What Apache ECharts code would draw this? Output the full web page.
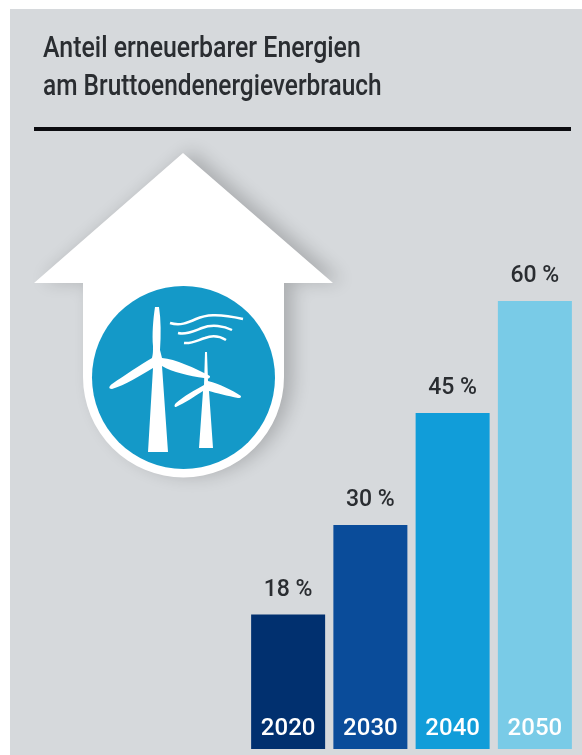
<!DOCTYPE html>
<html>
<head>
<meta charset="utf-8">
<title>Anteil erneuerbarer Energien</title>
<script src="https://cdn.jsdelivr.net/npm/echarts@6/dist/echarts.min.js"></script>
<style>
  html, body { margin: 0; padding: 0; background: #fff; }
  #chart { width: 582px; height: 755px; }
</style>
</head>
<body>
<div id="chart"></div>
<script>
var years = ['2020', '2030', '2040', '2050'];
var shares = [18, 30, 45, 60];
var barColors = ['#01306f', '#0a4c9a', '#119dd9', '#79cbe7'];
var titleLines = ['Anteil erneuerbarer Energien', 'am Bruttoendenergieverbrauch'];

var fontName = 'Roboto, sans-serif';
var panel = '#d6d9dc';
var iconBlue = '#1499c8';
var textColor = '#2a2d31';

// Pfeil mit rundem Ende
var arrowPath = 'M183 153 L333 283 L284 283 L284 377 A100.5 100.5 0 0 1 83 377 L83 283 L34 283 Z';

// Windraeder im Kreis
var bigTurbine = 'M155 307 L159 307 C161 320 161 335 160 350 L162 358 C175 359 195 368 210 376 C210 379 208 379 204 378 '
  + 'C190 376 172 372 162 366 L168 452 L148 452 L153 368 C140 376 125 385 112 389 C108 389 109 386 112 384 '
  + 'C125 375 140 365 152 358 C153 354 153 352 153 346 C152 335 153 320 155 307 Z';
var smallTurbine = 'M205 352 L207 352 L208 381 C220 384 232 390 241 396 C241 398 240 398 238 398 C228 396 216 393 209 391 '
  + 'L213 448 L199 448 L203 391 C195 396 185 403 176 407 C174 407 174 405 176 403 C184 396 195 390 204 385 Z';
var winds = 'M170 323 C180 326 187 323 196 319 C205 315 217 313 243 319 '
  + 'M178 333 C186 335 194 331 202 328 C212 324 224 326 232 330 '
  + 'M184 343 C192 344 198 340 205 338 C213 335 221 337 226 340';

echarts.graphic.registerShape('arrowShape', echarts.graphic.extendPath(arrowPath, {}));
echarts.graphic.registerShape('bigTurbine', echarts.graphic.extendPath(bigTurbine, {}));
echarts.graphic.registerShape('smallTurbine', echarts.graphic.extendPath(smallTurbine, {}));
echarts.graphic.registerShape('windLines', echarts.graphic.extendPath(winds, {}));

var myChart = echarts.init(document.getElementById('chart'));

var titleStyle = {
  fontFamily: fontName,
  fontSize: 30,
  fontWeight: 500,
  fill: textColor
};

var elements = [
  { type: 'rect', z: -10, shape: { x: 10, y: 9, width: 572, height: 746 }, style: { fill: panel } },
  { type: 'rect', z: -5, shape: { x: 34, y: 127, width: 537, height: 4 }, style: { fill: '#0c0c10' } },
  {
    type: 'arrowShape', z: -4,
    style: { fill: '#fff', shadowBlur: 18, shadowColor: 'rgba(0,0,0,0.2)', shadowOffsetX: 9, shadowOffsetY: -2 }
  },
  { type: 'circle', z: -3, shape: { cx: 183.5, cy: 377.5, r: 91.5 }, style: { fill: iconBlue } },
  { type: 'bigTurbine', z: -2, style: { fill: '#fff' } },
  { type: 'smallTurbine', z: -2, style: { fill: '#fff' } },
  { type: 'windLines', z: -2, style: { fill: 'none', stroke: '#fff', lineWidth: 2.5 } },
  // DIN-artige Schrift gibt es nicht, also schmal skalieren
  {
    type: 'text', x: 43, y: 34, scaleX: 0.83, z: 1,
    style: Object.assign({ text: titleLines[0] }, titleStyle)
  },
  {
    type: 'text', x: 43, y: 72, scaleX: 0.815, z: 1,
    style: Object.assign({ text: titleLines[1] }, titleStyle)
  }
];

var option = {
  animation: false,
  grid: { left: 247, width: 329, top: 301, height: 448 },
  xAxis: {
    type: 'category',
    data: years,
    axisLine: { show: false },
    axisTick: { show: false },
    axisLabel: {
      inside: true,
      margin: 8,
      color: '#fff',
      fontFamily: fontName,
      fontWeight: 500,
      fontSize: 24
    },
    z: 5
  },
  yAxis: { type: 'value', min: 0, max: 60, show: false },
  series: [{
    type: 'bar',
    barWidth: 74,
    data: shares.map(function (v, i) {
      return { value: v, itemStyle: { color: barColors[i] } };
    }),
    label: {
      show: true,
      position: 'top',
      distance: 13,
      formatter: '{c} %',
      color: textColor,
      fontFamily: fontName,
      fontWeight: 500,
      fontSize: 23
    }
  }],
  graphic: { elements: elements }
};

myChart.setOption(option);
</script>
</body>
</html>
